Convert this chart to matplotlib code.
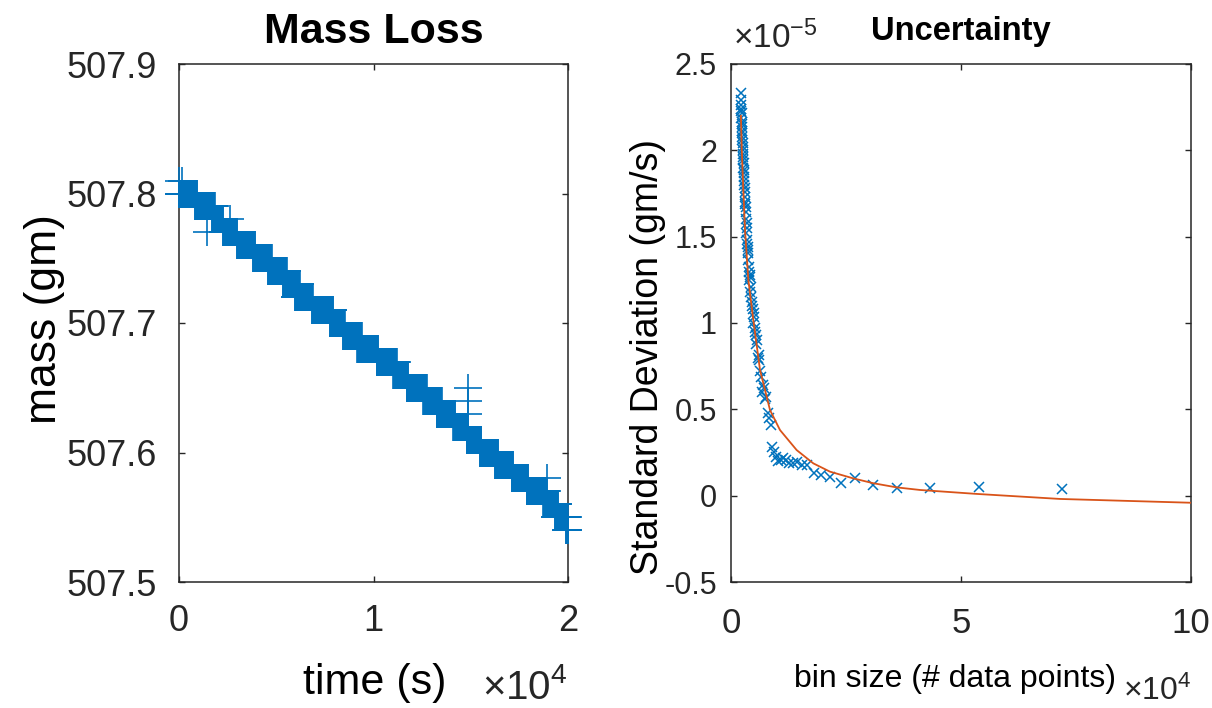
import numpy as np
import matplotlib
matplotlib.use("Agg")
import matplotlib.pyplot as plt
from matplotlib import font_manager
from matplotlib.ticker import FixedLocator, FuncFormatter

# ---------------------------------------------------------------------------
# Balance log: every 0.01 g reading value and the time span it was logged over
# ---------------------------------------------------------------------------
SAMPLE_PERIOD_S = 20
reading_mass_g = [507.80, 507.79, 507.78, 507.77, 507.76, 507.75, 507.74,
                  507.73, 507.72, 507.71, 507.70, 507.69, 507.68, 507.67,
                  507.66, 507.65, 507.64, 507.63, 507.62, 507.61, 507.60,
                  507.59, 507.58, 507.57, 507.56, 507.55, 507.54]
reading_first_s = [0, 822, 1697, 2262, 2982, 3804, 4575, 5346, 5963, 6837,
                   7763, 8430, 9167, 10164, 11017, 11706, 12560, 13249,
                   14102, 14791, 15475, 16246, 17104, 17876, 18729, 19330,
                   19900]
reading_last_s = [925, 1850, 2262, 2982, 3907, 4781, 5552, 6220, 6888, 7917,
                  8534, 9408, 10246, 11192, 11789, 12734, 13506, 14190,
                  14873, 15562, 16416, 17186, 17957, 18904, 19500, 20000,
                  20000]
# isolated readings off the main staircase
spike_time_s = [0, 150, 1420, 2620, 14842, 14842, 14842, 18904]
spike_mass_g = [507.81, 507.81, 507.77, 507.78, 507.65, 507.64, 507.63,
                507.58]

# ---------------------------------------------------------------------------
# Standard deviation of the mass-loss rate against bin size
# ---------------------------------------------------------------------------
bin_size_pts = [72000, 54000, 43200, 36000, 30857, 27000, 24000, 21600,
                19636, 18000, 16615, 15429, 14400, 13500, 12706, 12000,
                11368, 10800, 10286, 9818, 9391, 9000, 8640, 8308, 8000,
                7714, 7448, 7200, 6968, 6750, 6545, 6353, 6171, 6000, 5838,
                5684, 5538, 5400, 5268, 5143, 5023, 4909, 4800, 4696, 4596,
                4500, 4408, 4320, 4235, 4154, 4075, 4000, 3927, 3857, 3789,
                3724, 3661, 3600, 3541, 3484, 3429, 3375, 3323, 3273, 3224,
                3176, 3130, 3086, 3042, 3000, 2959, 2919, 2880, 2842, 2805,
                2769, 2734, 2700, 2667, 2634, 2602, 2571, 2541, 2512, 2483,
                2455, 2427, 2400, 2374, 2348, 2323, 2298, 2274, 2250, 2227,
                2204, 2182, 2160]
bin_std_e5 = [0.037, 0.048, 0.043, 0.043, 0.062, 0.100, 0.072, 0.110, 0.120,
              0.130, 0.178, 0.180, 0.197, 0.188, 0.190, 0.207, 0.216, 0.207,
              0.200, 0.226, 0.250, 0.284, 0.409, 0.448, 0.477, 0.573, 0.560,
              0.622, 0.641, 0.600, 0.689, 0.720, 0.786, 0.815, 0.800, 0.902,
              0.930, 0.880, 0.969, 0.950, 1.037, 1.056, 1.000, 1.080, 1.123,
              1.100, 1.150, 1.210, 1.180, 1.278, 1.268, 1.297, 1.250, 1.326,
              1.365, 1.404, 1.442, 1.420, 1.481, 1.460, 1.548, 1.577, 1.520,
              1.645, 1.674, 1.600, 1.702, 1.731, 1.690, 1.780, 1.760, 1.820,
              1.847, 1.800, 1.886, 1.870, 1.925, 1.944, 1.900, 1.960, 2.002,
              1.980, 2.041, 2.020, 2.060, 2.099, 2.080, 2.137, 2.110, 2.166,
              2.150, 2.214, 2.190, 2.240, 2.262, 2.230, 2.290, 2.330]
fit_bin_pts = [2160, 2320, 2680, 3044, 3768, 4855, 6305, 8479, 10653, 14276,
               17900, 21523, 26594, 30942, 36016, 41089, 53480, 71525, 100000]
fit_std_e5 = [2.20, 2.02, 1.77, 1.54, 1.25, 1.017, 0.728, 0.496, 0.380,
              0.264, 0.187, 0.139, 0.100, 0.072, 0.048, 0.033, 0.010, -0.019,
              -0.041]

# ---------------------------------------------------------------------------
avail = {f.name for f in font_manager.fontManager.ttflist}
REG = "Liberation Sans" if "Liberation Sans" in avail else "DejaVu Sans"
NARROW = "Liberation Sans Narrow" if "Liberation Sans Narrow" in avail else REG
plt.rcParams["font.family"] = REG
plt.rcParams["axes.unicode_minus"] = False

BLUE = "#0072BD"
ORANGE = "#D95319"
AX_GRAY = "#262626"

fig = plt.figure(figsize=(12.12, 7.08), dpi=100)
ax1 = fig.add_axes([179 / 1212, 126 / 708, 389 / 1212, 518 / 708])
ax2 = fig.add_axes([731 / 1212, 126 / 708, 460 / 1212, 518 / 708])


def boxed(ax):
    for s in ax.spines.values():
        s.set_color(AX_GRAY)
        s.set_linewidth(1.1)
    ax.tick_params(direction="in", length=4, width=1.0, top=True,
                   right=True, colors=AX_GRAY)


# ---- left: mass vs time ----------------------------------------------------
t_parts, m_parts = [], []
for m, a, b in zip(reading_mass_g, reading_first_s, reading_last_s):
    t = np.arange(a, b + 1, SAMPLE_PERIOD_S)
    t_parts.append(t)
    m_parts.append(np.full(t.size, m))
t_parts.append(np.asarray(spike_time_s, float))
m_parts.append(np.asarray(spike_mass_g, float))
time_s = np.concatenate(t_parts)
mass_g = np.concatenate(m_parts)

ax1.plot(time_s, mass_g, linestyle="none", marker="+", markersize=19.5,
         markeredgewidth=1.2, color=BLUE, clip_on=False, zorder=3)
ax1.set_xlim(0, 20000)
ax1.set_ylim(507.5, 507.9)
boxed(ax1)
ax1.xaxis.set_major_locator(FixedLocator([0, 10000, 20000]))
ax1.xaxis.set_major_formatter(FuncFormatter(lambda v, p: f"{v / 1e4:g}"))
ax1.yaxis.set_major_locator(FixedLocator([507.5, 507.6, 507.7, 507.8, 507.9]))
ax1.yaxis.set_major_formatter(FuncFormatter(lambda v, p: f"{v:.1f}"))
ax1.tick_params(axis="y", pad=16, labelsize=26)
ax1.tick_params(axis="x", pad=16, labelsize=26)
ax1.set_title("Mass Loss", fontsize=31, fontweight="bold", pad=15)
ax1.set_ylabel("mass (gm)", fontsize=32)
ax1.yaxis.set_label_coords(-0.294, 0.508)
ax1.set_xlabel("time (s)", fontsize=31)
ax1.xaxis.set_label_coords(0.504, -0.156)
ax1.text(1.0, -0.226, r"$\mathregular{\times10^{4}}$", transform=ax1.transAxes,
         ha="right", va="baseline", fontsize=29, color=AX_GRAY)

# ---- right: uncertainty vs bin size ---------------------------------------
bin_std = np.asarray(bin_std_e5) * 1e-5
fit_std = np.asarray(fit_std_e5) * 1e-5
ax2.plot(bin_size_pts, bin_std, linestyle="none", marker="x", markersize=7,
         markeredgewidth=1.1, color=BLUE, zorder=2)
ax2.plot(fit_bin_pts, fit_std, color=ORANGE, linewidth=1.3, zorder=3)
ax2.set_xlim(0, 100000)
ax2.set_ylim(-0.5e-5, 2.5e-5)
boxed(ax2)
ax2.xaxis.set_major_locator(FixedLocator([0, 50000, 100000]))
ax2.xaxis.set_major_formatter(FuncFormatter(lambda v, p: f"{round(v / 1e4, 3):g}"))
ax2.yaxis.set_major_locator(FixedLocator(np.arange(-0.5, 2.51, 0.5) * 1e-5))
ax2.yaxis.set_major_formatter(FuncFormatter(lambda v, p: f"{round(v * 1e5, 3):g}"))
ax2.tick_params(axis="y", pad=10, labelsize=22)
ax2.tick_params(axis="x", pad=18, labelsize=25)
for lab in ax2.get_xticklabels() + ax2.get_yticklabels():
    lab.set_family(NARROW)
ax2.set_title("Uncertainty", fontsize=23.5, fontweight="bold", pad=17,
              family=NARROW)
ax2.set_ylabel("Standard Deviation (gm/s)", fontsize=27)
ax2.yaxis.set_label_coords(-0.141, 0.434)
ax2.set_xlabel("bin size (# data points)", fontsize=23, family=NARROW)
ax2.xaxis.set_label_coords(0.488, -0.158)
ax2.text(1.0, -0.228, r"$\mathregular{\times10^{4}}$", transform=ax2.transAxes,
         ha="right", va="baseline", fontsize=23, color=AX_GRAY, family=NARROW)
ax2.text(0.005, 1.03, r"$\mathregular{\times10^{-5}}$", transform=ax2.transAxes,
         ha="left", va="baseline", fontsize=24, color=AX_GRAY, family=NARROW)

fig.savefig("out.png", dpi=100)
